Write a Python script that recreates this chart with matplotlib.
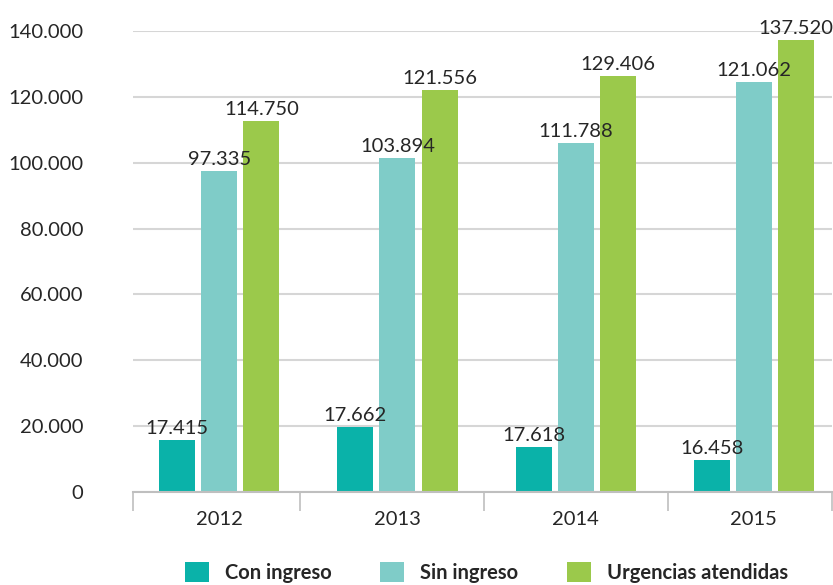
import numpy as np
import matplotlib
matplotlib.use("Agg")
import matplotlib.pyplot as plt
from matplotlib.patches import Patch

plt.rcParams['font.family'] = ['Lato', 'DejaVu Sans']

# data
years = ['2012', '2013', '2014', '2015']
series = ['Con ingreso', 'Sin ingreso', 'Urgencias atendidas']
# bar heights as drawn
con_ingreso = [15800, 19700, 13700, 9700]
sin_ingreso = [97500, 101400, 106000, 124500]
urgencias = [112700, 122100, 126300, 137300]
# printed value labels
con_labels = ['17.415', '17.662', '17.618', '16.458']
sin_labels = ['97.335', '103.894', '111.788', '121.062']
urg_labels = ['114.750', '121.556', '129.406', '137.520']
yticks = [0, 20000, 40000, 60000, 80000, 100000, 120000, 140000]
ytick_labels = ['0', '20.000', '40.000', '60.000', '80.000', '100.000', '120.000', '140.000']

colors = ['#0ab2a9', '#7fccc8', '#9bc94b']
text_col = '#262626'
fs = 14.5

fig = plt.figure(figsize=(8.33, 5.85), dpi=100)
ax = fig.add_axes([0.160, 0.159, 0.839, 0.788])

x = np.arange(len(years))
w = 0.202
step = 0.236
values = [con_ingreso, sin_ingreso, urgencias]
labels = [con_labels, sin_labels, urg_labels]
for i in range(3):
    pos = x + (i - 1) * step
    ax.bar(pos, values[i], width=w, color=colors[i], zorder=3)
    for px, v, lab in zip(pos, values[i], labels[i]):
        ax.annotate(lab, (px, v), xytext=(0, 2), textcoords='offset points',
                    ha='center', va='bottom', fontsize=fs, color=text_col,
                    annotation_clip=False, zorder=4)

xlo, xhi = -0.483, 3.44
ax.set_xlim(xlo, xhi)
ax.set_ylim(0, 140000)
ax.set_yticks(yticks)
ax.set_yticklabels(ytick_labels)
ax.set_xticks(x)
ax.set_xticklabels(years)
ax.set_xticks([xlo, 0.455, 1.483, 2.517, xhi], minor=True)
ax.tick_params(axis='x', which='major', length=0, pad=14, labelsize=fs, labelcolor=text_col)
ax.tick_params(axis='x', which='minor', length=14, width=1.2, color='#bfbfbf')
ax.tick_params(axis='y', length=0, pad=36, labelsize=fs, labelcolor=text_col)

ax.grid(axis='y', color='#d6d6d6', linewidth=1.5, zorder=0)
for s in ['top', 'right', 'left']:
    ax.spines[s].set_visible(False)
ax.spines['bottom'].set_color('#bfbfbf')
ax.spines['bottom'].set_linewidth(1.5)
ax.spines['bottom'].set_zorder(5)

handles = [Patch(facecolor=c, edgecolor='none') for c in colors]
fig.legend(handles, series, loc='center', bbox_to_anchor=(0.584, 0.022), ncol=3,
           frameon=False, prop={'weight': 'bold', 'size': fs},
           handlelength=1.2, handleheight=1.2, handletextpad=0.8, columnspacing=2.4,
           labelcolor=text_col)

fig.savefig('out.png', dpi=100)
